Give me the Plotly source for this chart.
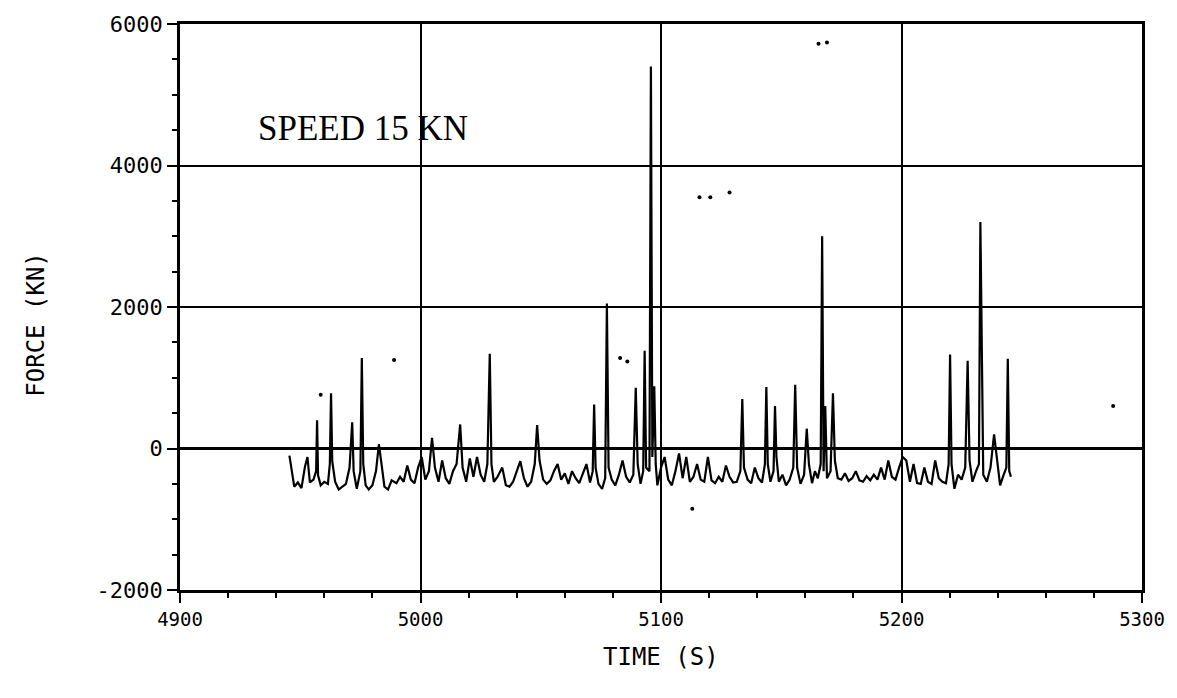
import plotly.graph_objects as go

# ---- data ----
time_s = [
    4945.5, 4946.5, 4947.5, 4949, 4950.5, 4952, 4953, 4954, 4955.5, 4956.6,
    4957.0, 4957.4, 4958.5, 4960, 4961.5, 4962.3, 4962.8, 4963.3, 4964.5, 4966,
    4967.5, 4969, 4970.5, 4971.6, 4972.2, 4973.5, 4975, 4975.6, 4976.2, 4977.2,
    4978.5, 4980, 4981.5, 4982.7, 4983.8, 4985, 4986.5, 4988, 4990, 4991.5,
    4993, 4994.5, 4996, 4997.5, 4999, 5000.5, 5002, 5003.5, 5004.8, 5006,
    5007.5, 5009, 5010.5, 5012, 5013.5, 5015, 5016.5, 5017.5, 5019, 5020.5,
    5022, 5023.5, 5025, 5026.5, 5027.8, 5028.8, 5029.5, 5030.5, 5032, 5034,
    5035.5, 5037, 5038.5, 5040, 5041.5, 5043, 5044.5, 5046, 5047.5, 5048.5,
    5049.5, 5051, 5052.5, 5054, 5055.5, 5057, 5058.5, 5060, 5061.5, 5063,
    5064.5, 5066, 5067.5, 5069, 5070.5, 5071.6, 5072.2, 5072.8, 5074, 5075.5,
    5076.8, 5077.5, 5078.2, 5079.5, 5081, 5082.5, 5084, 5085.5, 5087, 5088.5,
    5089.5, 5090.3, 5091.5, 5092.6, 5093.2, 5093.8, 5095.2, 5095.8, 5096.4, 5097.2,
    5097.8, 5098.5, 5100, 5101.5, 5103, 5104.5, 5106, 5107.5, 5109, 5110.5,
    5112, 5113.5, 5115, 5116.5, 5118, 5119.5, 5121, 5122.5, 5124, 5125.5,
    5127, 5128.5, 5130, 5131.5, 5133, 5133.8, 5134.5, 5136, 5137.5, 5139,
    5140.5, 5142, 5143.2, 5143.8, 5144.4, 5145.5, 5146.8, 5147.4, 5148, 5149,
    5150.5, 5152, 5153.5, 5155, 5155.8, 5156.6, 5158, 5159.5, 5160.6, 5161.5,
    5162.8, 5164, 5165.2, 5166.4, 5167, 5167.6, 5168.3, 5169, 5170.5, 5171.5,
    5172.3, 5173.5, 5175, 5176.5, 5178, 5179.5, 5181, 5182.5, 5184, 5185.5,
    5187, 5188.5, 5190, 5191.5, 5193, 5194.5, 5196, 5197.5, 5199, 5200.5,
    5202, 5203.5, 5205, 5206.5, 5208, 5209.5, 5211, 5212.5, 5214, 5215.5,
    5217, 5218.5, 5219.6, 5220.2, 5220.8, 5222, 5223.5, 5225, 5226.5, 5227.5,
    5228.3, 5229.5, 5231, 5232.2, 5232.8, 5233.5, 5234, 5235.5, 5237, 5238.5,
    5239.5, 5241, 5242.5, 5243.6, 5244.2, 5244.8, 5245.5,
]
force_kn = [
    -100, -300, -540, -480, -560, -250, -120, -480, -440, -320,
    400, -380, -520, -470, -500, -220, 780, -180, -470, -580,
    -540, -500, -270, 370, -320, -570, -320, 1280, -220, -520,
    -580, -520, -320, 60, -220, -540, -580, -450, -490, -400,
    -470, -240, -440, -490, -270, -120, -440, -320, 150, -270,
    -470, -170, -420, -500, -320, -220, 340, -270, -470, -140,
    -400, -120, -370, -470, -220, 1340, -220, -470, -400, -270,
    -520, -540, -470, -320, -180, -420, -540, -470, -220, 330,
    -170, -440, -500, -450, -320, -220, -440, -350, -500, -320,
    -420, -490, -340, -220, -480, -320, 620, -270, -500, -570,
    -420, 2050, -270, -440, -520, -370, -170, -400, -480, -370,
    860, -220, -500, -320, 1380, -270, -320, 5400, -120, 880,
    -220, -520, -270, -120, -440, -520, -320, -70, -420, -120,
    -470, -400, -220, -440, -470, -120, -450, -490, -400, -470,
    -240, -400, -480, -470, -320, 700, -270, -440, -490, -270,
    -420, -480, -220, 870, -220, -470, -320, 600, -120, -470,
    -370, -520, -440, -270, 900, -270, -500, -370, 280, -220,
    -490, -320, -420, -220, 3000, -320, 600, -420, -320, 780,
    -170, -420, -440, -350, -460, -420, -320, -450, -470, -390,
    -450, -370, -440, -270, -440, -170, -400, -440, -270, -120,
    -170, -470, -220, -490, -500, -270, -470, -500, -170, -420,
    -470, -490, -220, 1330, -220, -570, -370, -440, -270, 1240,
    -170, -470, -320, -220, 3200, 500, -370, -470, -270, 200,
    -120, -520, -370, -270, 1270, -320, -400,
]

# isolated plotter dots
stray_time = [4958.5, 4989, 5083, 5086, 5116, 5120.5, 5128.5, 5165.5, 5169, 5113, 5288]
stray_force = [760, 1250, 1280, 1230, 3550, 3550, 3620, 5720, 5740, -850, 600]

x_ticks = [4900, 5000, 5100, 5200, 5300]
y_ticks = [-2000, 0, 2000, 4000, 6000]

fig = go.Figure()
fig.add_trace(go.Scatter(x=time_s, y=force_kn, mode="lines",
                         line=dict(color="black", width=2.2), hoverinfo="skip"))
fig.add_trace(go.Scatter(x=stray_time, y=stray_force, mode="markers",
                         marker=dict(color="black", size=4), hoverinfo="skip"))

L, R, T, B = 180, 32, 24, 108
fig.update_layout(
    width=1177, height=698,
    margin=dict(l=L, r=R, t=T, b=B),
    paper_bgcolor="white", plot_bgcolor="white",
    showlegend=False,
    font=dict(family="DejaVu Sans Mono", color="black", size=19),
    xaxis=dict(range=[4900, 5300], tickvals=x_ticks, ticktext=[str(v) for v in x_ticks],
               tickfont=dict(size=19),
               showgrid=True, gridcolor="black", gridwidth=2,
               showline=True, linecolor="black", linewidth=2.5, mirror=True,
               ticks="outside", ticklen=10, tickwidth=1.5, tickcolor="black",
               minor=dict(dtick=20, ticks="outside", ticklen=5, tickcolor="black", showgrid=False),
               zeroline=False),
    yaxis=dict(range=[-2000, 6000], tickvals=y_ticks, ticktext=[str(v) for v in y_ticks],
               tickfont=dict(size=22),
               showgrid=True, gridcolor="black", gridwidth=2,
               showline=True, linecolor="black", linewidth=2.5, mirror=True,
               ticks="outside", ticklen=10, tickwidth=1.5, tickcolor="black",
               minor=dict(dtick=500, ticks="outside", ticklen=5, tickcolor="black", showgrid=False),
               zeroline=True, zerolinecolor="black", zerolinewidth=3),
    annotations=[
        dict(text="SPEED 15 KN", x=4976, y=4530, xref="x", yref="y", showarrow=False,
             font=dict(family="Liberation Serif", size=35, color="black")),
        dict(text="FORCE (KN)", x=-0.150, y=0.47, xref="paper", yref="paper", showarrow=False,
             xanchor="center", yanchor="middle",
             textangle=-90, font=dict(family="DejaVu Sans Mono", size=24, color="black")),
        dict(text="TIME (S)", x=0.5, y=-0.09, xref="paper", yref="paper", showarrow=False,
             xanchor="center", yanchor="top",
             font=dict(family="DejaVu Sans Mono", size=24, color="black")),
    ],
)

fig.write_html("out.html")
